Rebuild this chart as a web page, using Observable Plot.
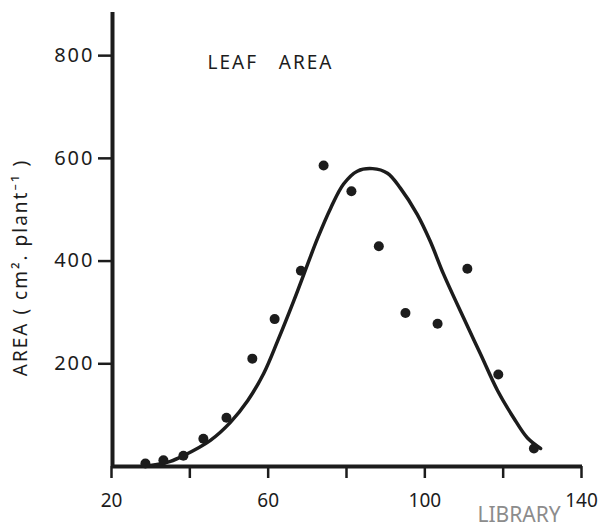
<!DOCTYPE html>
<html>
<head>
<meta charset="utf-8">
<script src="https://cdn.jsdelivr.net/npm/d3@7"></script>
<script src="https://cdn.jsdelivr.net/npm/@observablehq/plot@0.6"></script>
<style>
  html, body { margin: 0; padding: 0; background: #fff; overflow: hidden; }
  #chart { position: relative; width: 598px; height: 529px; }
</style>
</head>
<body>
<div id="chart"></div>
<script>
// Observed data points (day, leaf area)
const obsDay  = [28.4, 33, 38.1, 43.2, 49.1, 55.7, 61.4, 68.1, 73.9, 81, 88, 94.8, 103, 110.6, 118.5, 127.6];
const obsArea = [6, 12, 21, 54, 95, 210, 287, 381, 586, 536, 429, 299, 278, 385, 179, 35];

// Fitted curve
const fitDay  = [29.7, 34.8, 38.1, 45.0, 50.1, 54.5, 58.6, 62.2, 66.3, 72.4, 75.7, 79.0, 82.5, 86.4, 90.2, 93.5, 97.8, 101.1, 104.5, 109.6, 113.9, 118.3, 122.4, 125.9, 129.3];
const fitArea = [2, 10, 21, 51, 86, 128, 181, 245, 323, 445, 503, 550, 575, 580, 571, 542, 491, 439, 375, 290, 220, 148, 95, 56, 35];

// Axes
const xTicks = [20, 40, 60, 80, 100, 120, 140];
const xTickLabels = [20, 60, 100, 140];
const yTicks = [200, 400, 600, 800];

// Texts
const titleText = "LEAF   AREA";
const yLabelText = "AREA ( cm². plant⁻¹ )";
const watermarkText = "LIBRARY";

const points = obsDay.map((d, i) => ({day: d, area: obsArea[i]}));
const fit = fitDay.map((d, i) => ({day: d, area: fitArea[i]}));

const ink = "#1c1c1c";

const chart = Plot.plot({
  width: 598,
  height: 529,
  marginLeft: 112,
  marginRight: 16,
  marginTop: 12,
  marginBottom: 63,
  style: {fontFamily: "'Noto Sans', sans-serif", fontSize: "20px", color: ink, background: "white"},
  x: {domain: [20, 140]},
  y: {domain: [0, 884]},
  marks: [
    Plot.axisY({ticks: yTicks, tickSize: 14, tickPadding: 4, strokeWidth: 2.5, label: null, fontSize: 20}),
    Plot.axisX({ticks: xTicks, tickSize: 12, tickPadding: 15, strokeWidth: 2.5, label: null, fontSize: 19, dx: -1,
      tickFormat: d => xTickLabels.includes(d) ? String(d) : ""}),
    Plot.ruleX([20], {stroke: ink, strokeWidth: 4}),
    Plot.ruleY([0], {stroke: ink, strokeWidth: 4}),
    Plot.line(fit, {x: "day", y: "area", curve: "catmull-rom", stroke: ink, strokeWidth: 3.5}),
    Plot.dot(points, {x: "day", y: "area", r: 5, fill: ink, stroke: null}),
    Plot.text([titleText], {frameAnchor: "top-left", textAnchor: "start", lineAnchor: "middle", dx: 95, dy: 50, fontSize: 19, fill: ink}),
    Plot.text([yLabelText], {frameAnchor: "left", rotate: -90, textAnchor: "middle", lineAnchor: "middle", dx: -92, dy: 28, fontSize: 19, fill: ink}),
    Plot.text([watermarkText], {frameAnchor: "bottom-right", textAnchor: "start", lineAnchor: "middle", dx: -105, dy: 49, fontSize: 21, fill: "#8c8c8c"})
  ]
});

d3.select(chart).selectAll("text").each(function() {
  const t = this.textContent;
  if (t === titleText) d3.select(this).style("letter-spacing", "2px").style("white-space", "pre");
  else if (t === yLabelText) d3.select(this).style("letter-spacing", "2px");
  else if (t === "800" || t === "600" || t === "400" || t === "200") d3.select(this).style("letter-spacing", "2px");
});

document.getElementById("chart").appendChild(chart);
</script>
</body>
</html>
